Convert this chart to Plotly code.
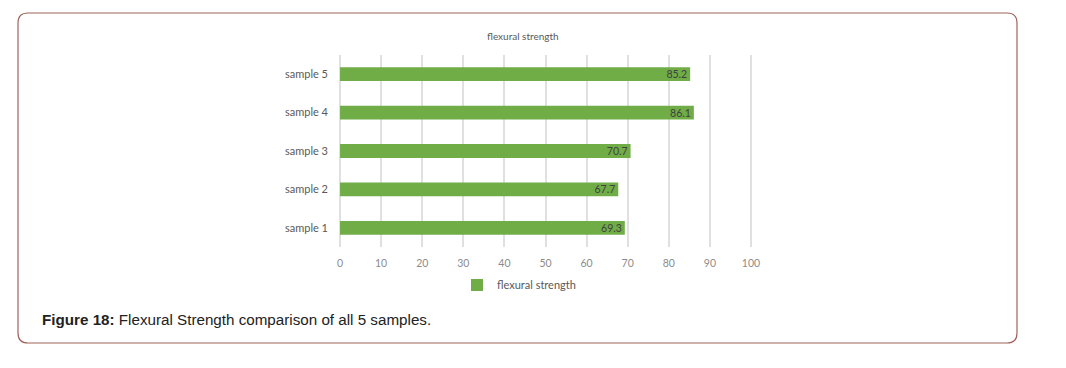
import plotly.graph_objects as go

categories = ["sample 1", "sample 2", "sample 3", "sample 4", "sample 5"]
values = [69.3, 67.7, 70.7, 86.1, 85.2]
series_name = "flexural strength"
tick_vals = [0, 10, 20, 30, 40, 50, 60, 70, 80, 90, 100]

OFF = 8  # page body margin
W, H = 1066 - OFF, 368 - OFF
L, R, T, B = 339, 752, 55, 247  # plot area in reference pixels


def px(x):
    return (x - L) / (R - L)


def py(y):
    return (B - y) / (B - T)


fig = go.Figure()
fig.add_trace(go.Bar(
    y=categories, x=values, orientation="h", name=series_name,
    marker=dict(color="#70ad47", line=dict(color="#70ad47", width=0)),
    width=0.36,
    text=[f"{v:.1f}" for v in values], textposition="inside",
    insidetextanchor="end", constraintext="none",
    textfont=dict(family="Lato", size=10.5, color="#404040"),
    cliponaxis=False,
))

# rounded frame
x0, x1, y0, y1, r = 18, 1017, 13, 343, 10
path = (
    f"M {px(x0 + r)},{py(y0)} L {px(x1 - r)},{py(y0)} "
    f"Q {px(x1)},{py(y0)} {px(x1)},{py(y0 + r)} "
    f"L {px(x1)},{py(y1 - r)} Q {px(x1)},{py(y1)} {px(x1 - r)},{py(y1)} "
    f"L {px(x0 + r)},{py(y1)} Q {px(x0)},{py(y1)} {px(x0)},{py(y1 - r)} "
    f"L {px(x0)},{py(y0 + r)} Q {px(x0)},{py(y0)} {px(x0 + r)},{py(y0)} Z"
)
fig.add_shape(type="path", path=path, xref="paper", yref="paper",
              line=dict(color="#a0645a", width=1.2), layer="below")

fig.update_layout(
    width=W, height=H,
    margin=dict(l=L - OFF, r=W - (R - OFF), t=T - OFF, b=H - (B - OFF)),
    paper_bgcolor="white", plot_bgcolor="white",
    font=dict(family="Lato", size=11, color="#595959"),
    bargap=0.64,
    showlegend=True,
    legend=dict(orientation="h", x=px(519), xanchor="center", y=py(285),
                yanchor="middle", font=dict(family="Lato", size=11, color="#595959"),
                itemwidth=30, bgcolor="rgba(0,0,0,0)"),
    xaxis=dict(range=[-0.25, 100.25], tickvals=tick_vals, showgrid=True,
               gridcolor="#e0e0e0", gridwidth=1.5, zeroline=False,
               showline=False, ticks="", ticklabelstandoff=8,
               tickfont=dict(family="Lato", size=10.5, color="#8c8c8c"),
               fixedrange=True),
    yaxis=dict(categoryorder="array", categoryarray=categories,
               showgrid=False, zeroline=False, showline=False, ticks="",
               ticklabelstandoff=10,
               tickfont=dict(family="Lato", size=11, color="#595959")),
    annotations=[
        dict(text="flexural strength", x=px(523), y=py(36), xref="paper", yref="paper",
             showarrow=False, xanchor="center", yanchor="middle",
             font=dict(family="Lato", size=10, color="#595959")),
        dict(text="<b>Figure 18:</b> Flexural Strength comparison of all 5 samples.",
             x=px(40), y=py(319), xref="paper", yref="paper", showarrow=False,
             xanchor="left", yanchor="middle",
             font=dict(family="Liberation Sans", size=15.2, color="#222222")),
    ],
)

fig.write_html("out.html")
